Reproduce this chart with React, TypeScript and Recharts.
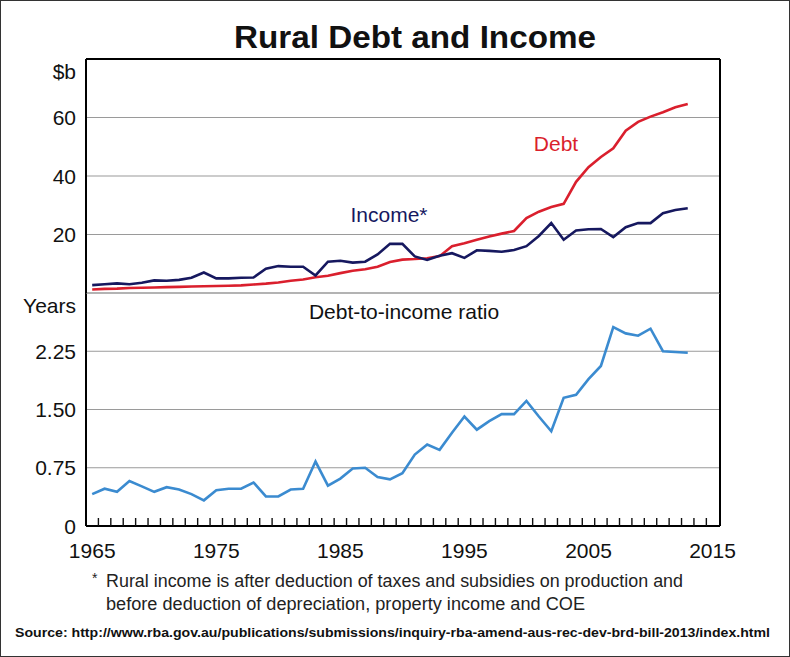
import React from 'react';
import {
  ComposedChart,
  LineChart,
  Line,
  Scatter,
  XAxis,
  YAxis,
  CartesianGrid,
  ReferenceLine,
} from 'recharts';

const years = [
  1965, 1966, 1967, 1968, 1969, 1970, 1971, 1972, 1973, 1974,
  1975, 1976, 1977, 1978, 1979, 1980, 1981, 1982, 1983, 1984,
  1985, 1986, 1987, 1988, 1989, 1990, 1991, 1992, 1993, 1994,
  1995, 1996, 1997, 1998, 1999, 2000, 2001, 2002, 2003, 2004,
  2005, 2006, 2007, 2008, 2009, 2010, 2011, 2012, 2013,
];

// $b
const debt = [
  1.2, 1.4, 1.5, 1.7, 1.8, 1.9, 2.0, 2.1, 2.2, 2.3,
  2.4, 2.5, 2.6, 2.9, 3.2, 3.6, 4.2, 4.6, 5.4, 5.9,
  6.8, 7.6, 8.1, 9.0, 10.6, 11.4, 11.6, 11.9, 12.6, 16.0,
  17.0, 18.2, 19.3, 20.3, 21.2, 25.6, 27.8, 29.4, 30.5, 38.0,
  43.0, 46.5, 49.5, 55.5, 58.5, 60.3, 61.8, 63.5, 64.6,
];

// $b
const income = [
  2.7, 3.0, 3.3, 3.0, 3.5, 4.3, 4.2, 4.5, 5.2, 7.0,
  5.0, 5.0, 5.2, 5.3, 8.3, 9.2, 9.0, 9.0, 6.0, 10.7,
  11.0, 10.4, 10.7, 13.2, 16.8, 16.8, 12.5, 11.3, 12.7, 13.6,
  12.0, 14.6, 14.4, 14.1, 14.7, 16.0, 19.5, 23.9, 18.2, 21.4,
  21.8, 21.9, 19.1, 22.5, 23.9, 23.9, 27.3, 28.4, 29.0,
];

// years
const ratio = [
  0.41, 0.48, 0.44, 0.58, 0.51, 0.44, 0.50, 0.47, 0.41, 0.33,
  0.46, 0.48, 0.48, 0.56, 0.38, 0.38, 0.47, 0.48, 0.83, 0.52,
  0.61, 0.74, 0.75, 0.63, 0.60, 0.68, 0.92, 1.05, 0.98, 1.20,
  1.41, 1.24, 1.35, 1.44, 1.44, 1.61, 1.41, 1.22, 1.65, 1.69,
  1.89, 2.06, 2.56, 2.48, 2.45, 2.54, 2.25, 2.24, 2.23,
];

const topTicks = [20, 40, 60, 80];
const topTickLabels: Record<number, string> = { 20: '20', 40: '40', 60: '60', 80: '$b' };
const bottomTicks = [0, 0.75, 1.5, 2.25, 3];
const bottomTickLabels: Record<number, string> = { 0: '0', 0.75: '0.75', 1.5: '1.50', 2.25: '2.25', 3: 'Years' };
const decadeLabels = [1965, 1975, 1985, 1995, 2005, 2015];
// small year marks along the bottom axis (between labelled years)
const minorTicks = years.map((y) => y + 0.5).concat([2014.5]);

const data = years.map((year, i) => ({
  year,
  debt: debt[i],
  income: income[i],
  ratio: ratio[i],
}));
const minorTickData = minorTicks.map((t) => ({ year: t, base: 0 }));

const FONT = '"Liberation Sans", Arial, Helvetica, sans-serif';
const RED = '#da1f2d';
const NAVY = '#16185f';
const BLUE = '#3b8bd0';
const X_DOMAIN: [number, number] = [1964.5, 2015.6];

const makeYTick = (labels: Record<number, string>, topValue: number, side: 'left' | 'right') =>
  (props: any) => {
    const { x, y, payload } = props;
    const v = payload.value;
    const isUnit = v === topValue;
    return (
      <text
        x={x}
        y={isUnit ? y + 12 : y}
        textAnchor={side === 'left' ? 'end' : 'start'}
        dominantBaseline="central"
        fontFamily={FONT}
        fontSize={21}
        fill="#111"
      >
        {labels[v]}
      </text>
    );
  };

const XTick = (props: any) => {
  const { x, y, payload } = props;
  return (
    <text x={x} y={y + 24} textAnchor="middle" dominantBaseline="central" fontFamily={FONT} fontSize={21} fill="#111">
      {payload.value}
    </text>
  );
};

// upward tick mark drawn at the scaled point
const MinorTick = (props: any) => {
  const { cx, cy } = props;
  if (cx == null || cy == null) return <g />;
  return <line x1={cx} x2={cx} y1={cy} y2={cy - 8} stroke="#111" strokeWidth={1.4} />;
};

const frame = { stroke: '#000', strokeWidth: 2 };

export default function App() {
  return (
    <div
      style={{
        position: 'absolute',
        left: 0,
        top: 0,
        width: 790,
        height: 657,
        background: '#fff',
        boxSizing: 'border-box',
        border: '1.5px solid #333',
        overflow: 'hidden',
      }}
    >
      {/* bottom panel: debt-to-income ratio */}
      <div style={{ position: 'absolute', left: -1.5, top: -1.5 }}>
        <ComposedChart width={790} height={560} data={data} margin={{ top: 293, right: 10, left: 26, bottom: 4 }}>
          <CartesianGrid yAxisId="l" vertical={false} stroke="#9a9a9a" strokeWidth={1.2} />
          <XAxis
            dataKey="year"
            type="number"
            domain={X_DOMAIN}
            ticks={decadeLabels}
            interval={0}
            tick={XTick}
            tickLine={false}
            tickSize={0}
            tickMargin={0}
            height={30}
            axisLine={frame}
            allowDataOverflow
          />
          <YAxis yAxisId="l" orientation="left" width={60} domain={[0, 3]} ticks={bottomTicks} interval={0}
            tick={makeYTick(bottomTickLabels, 3, 'left')} tickLine={false} tickSize={0} tickMargin={10} axisLine={frame} />
          <YAxis yAxisId="r" orientation="right" width={60} domain={[0, 3]} ticks={bottomTicks} interval={0}
            tick={makeYTick(bottomTickLabels, 3, 'right')} tickLine={false} tickSize={0} tickMargin={7} axisLine={frame} />
          <Scatter yAxisId="l" data={minorTickData} dataKey="base" shape={MinorTick} isAnimationActive={false} />
          <Line yAxisId="l" type="linear" dataKey="ratio" stroke={BLUE} strokeWidth={2.6} dot={false} isAnimationActive={false} />
        </ComposedChart>
      </div>

      {/* top panel: debt and income */}
      <div style={{ position: 'absolute', left: -1.5, top: -1.5 }}>
        <LineChart width={790} height={300} data={data} margin={{ top: 59, right: 10, left: 26, bottom: 7 }}>
          <CartesianGrid yAxisId="l" vertical={false} stroke="#9a9a9a" strokeWidth={1.2} />
          <XAxis dataKey="year" type="number" domain={X_DOMAIN} tick={false} tickLine={false} height={0} axisLine={frame} allowDataOverflow />
          <YAxis yAxisId="l" orientation="left" width={60} domain={[0, 80]} ticks={topTicks} interval={0}
            tick={makeYTick(topTickLabels, 80, 'left')} tickLine={false} tickSize={0} tickMargin={10} axisLine={frame} />
          <YAxis yAxisId="r" orientation="right" width={60} domain={[0, 80]} ticks={topTicks} interval={0}
            tick={makeYTick(topTickLabels, 80, 'right')} tickLine={false} tickSize={0} tickMargin={7} axisLine={frame} />
          <ReferenceLine yAxisId="l" y={80} stroke="#000" strokeWidth={2} />
          <Line yAxisId="l" type="linear" dataKey="debt" stroke={RED} strokeWidth={2.6} dot={false} isAnimationActive={false} />
          <Line yAxisId="l" type="linear" dataKey="income" stroke={NAVY} strokeWidth={2.6} dot={false} isAnimationActive={false} />
        </LineChart>
      </div>

      {/* titles, series labels and notes */}
      <svg width={790} height={657} style={{ position: 'absolute', left: -1.5, top: -1.5, pointerEvents: 'none' }}>
        <text x={415} y={37} textAnchor="middle" dominantBaseline="central" fontFamily={FONT} fontWeight="bold" fontSize={31} fill="#111"
          textLength={362} lengthAdjust="spacingAndGlyphs">
          Rural Debt and Income
        </text>
        <text x={556} y={143} textAnchor="middle" dominantBaseline="central" fontFamily={FONT} fontSize={21} fill={RED}>
          Debt
        </text>
        <text x={389} y={214} textAnchor="middle" dominantBaseline="central" fontFamily={FONT} fontSize={21} fill={NAVY}>
          Income*
        </text>
        <text x={404} y={311} textAnchor="middle" dominantBaseline="central" fontFamily={FONT} fontSize={21} fill="#111">
          Debt-to-income ratio
        </text>
        <text x={92} y={578} dominantBaseline="central" fontFamily={FONT} fontSize={14} fill="#222">*</text>
        <text x={106} y={581} dominantBaseline="central" fontFamily={FONT} fontSize={17.5} fill="#222"
          textLength={577} lengthAdjust="spacingAndGlyphs">
          Rural income is after deduction of taxes and subsidies on production and
        </text>
        <text x={106} y={604} dominantBaseline="central" fontFamily={FONT} fontSize={17.5} fill="#222"
          textLength={479} lengthAdjust="spacingAndGlyphs">
          before deduction of depreciation, property income and COE
        </text>
        <text x={15} y={633} dominantBaseline="central" fontFamily={FONT} fontWeight="bold" fontSize={12.5} fill="#111"
          textLength={755} lengthAdjust="spacingAndGlyphs">
          Source: http://www.rba.gov.au/publications/submissions/inquiry-rba-amend-aus-rec-dev-brd-bill-2013/index.html
        </text>
      </svg>
    </div>
  );
}
